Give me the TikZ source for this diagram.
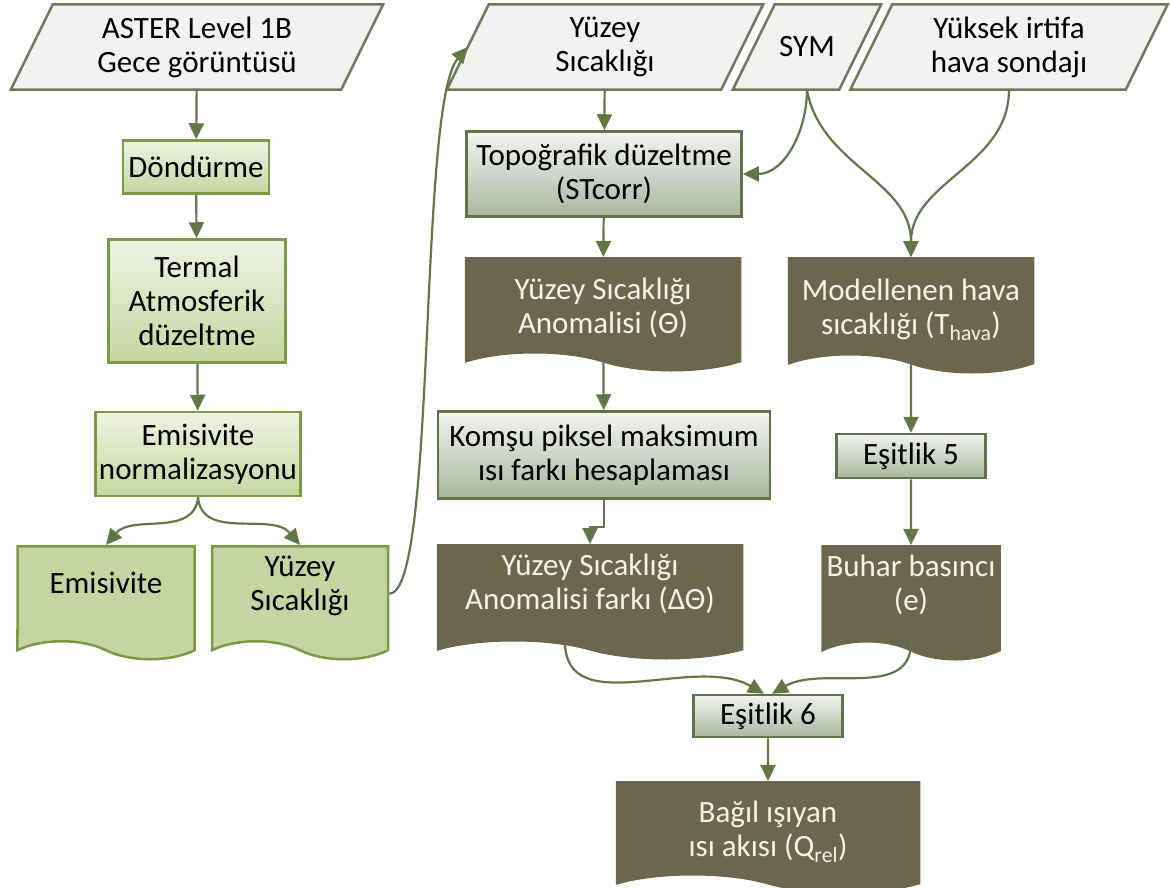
\documentclass[tikz,border=0pt]{standalone}
\usepackage{fontspec}
\setmainfont{Carlito}
\usetikzlibrary{shapes.symbols,arrows.meta,positioning,backgrounds}

\definecolor{okrenk}{HTML}{5F7846}
\definecolor{girdikenar}{HTML}{6F7A5A}
\definecolor{girdidolgu}{HTML}{F2F2F0}
\definecolor{yesilkenar}{HTML}{7A9A46}
\definecolor{yesilust}{HTML}{EEF3E3}
\definecolor{yesilalt}{HTML}{C5D6A0}
\definecolor{belgeyesil}{HTML}{C4D5A2}
\definecolor{grikenar}{HTML}{60744A}
\definecolor{griust}{HTML}{F2F4F0}
\definecolor{grialt}{HTML}{A8B79E}
\definecolor{koyudolgu}{HTML}{6D664E}
\definecolor{koyuyazi}{HTML}{F5F2E8}

\begin{document}
\begin{tikzpicture}[x=1pt,y=1pt,>={Triangle[length=16pt,width=15pt]},
	every node/.style={font=\fontsize{31}{34}\selectfont,align=center},
	ok/.style={->,draw=okrenk,line width=2.2pt},
	girdi/.style={rectangle,minimum height=85},
	paralel/.style={draw=girdikenar,fill=girdidolgu,line width=2.5pt,line join=miter},
	yesil/.style={rectangle,draw=yesilkenar,top color=yesilust,bottom color=yesilalt,line width=2.5pt},
	gri/.style={rectangle,draw=grikenar,top color=griust,bottom color=grialt,line width=2.5pt},
	belge/.style={tape,tape bend top=none,tape bend bottom=out and in,tape bend height=18pt,
		line width=2.5pt,anchor=north,text depth=22pt},
	acik/.style={belge,draw=yesilkenar,fill=belgeyesil},
	koyu/.style={belge,draw=koyudolgu,fill=koyudolgu,text=koyuyazi}]

	\useasboundingbox (0,0) rectangle (1170,-888);

	\node[girdi,minimum width=330] (aster) at (197,-47) {ASTER Level 1B\\Gece görüntüsü};
	\node[yesil,minimum width=146,minimum height=53] (dondurme) at (196,-167) {Döndürme};
	\node[yesil,minimum width=177,minimum height=123] (termal) at (197,-301) {Termal\\Atmosferik\\düzeltme};
	\node[yesil,minimum width=205,minimum height=84] (emnorm) at (198,-454) {Emisivite\\normalizasyonu};
	\node[acik,minimum width=177,minimum height=113] (emdoc) at (106,-545) {Emisivite};
	\node[acik,minimum width=176,minimum height=113] (yzdoc) at (300,-545) {Yüzey\\Sıcaklığı};

	\node[girdi,minimum width=274] (yuzey) at (605,-47) {Yüzey\\Sıcaklığı};
	\node[girdi,minimum width=106] (sym) at (807,-47) {SYM};
	\node[girdi,minimum width=275] (yuksek) at (1009,-47) {Yüksek irtifa\\hava sondajı};

	\node[gri,minimum width=275,minimum height=85] (topo) at (604,-174) {Topoğrafik düzeltme\\(STcorr)};
	\node[koyu,minimum width=274,minimum height=112,text depth=0pt] (anom) at (603,-257) {Yüzey Sıcaklığı\\Anomalisi (Θ)};
	\node[gri,minimum width=332,minimum height=87] (komsu) at (604,-455) {Komşu piksel maksimum\\ısı farkı hesaplaması};
	\node[koyu,minimum width=304,minimum height=113] (fark) at (590,-544) {Yüzey Sıcaklığı\\Anomalisi farkı (ΔΘ)};

	\node[koyu,minimum width=244,minimum height=114,text depth=0pt] (model) at (911,-257) {Modellenen hava\\sıcaklığı (T\textsubscript{hava})};
	\node[gri,minimum width=149,minimum height=44] (esit5) at (911,-456) {Eşitlik 5};
	\node[koyu,minimum width=177,minimum height=113] (buhar) at (911,-545) {Buhar basıncı\\(e)};

	\node[gri,minimum width=149,minimum height=42] (esit6) at (768,-716) {Eşitlik 6};
	\node[koyu,minimum width=302,minimum height=110,text depth=0pt] (bagil) at (768,-781) {Bağıl ışıyan\\ısı akısı (Q\textsubscript{rel})};

	\begin{scope}[on background layer]
		\foreach \n in {aster,yuzey,sym,yuksek}
			\draw[paralel] ([xshift=21]\n.north west) -- ([xshift=21]\n.north east)
				-- ([xshift=-21]\n.south east) -- ([xshift=-21]\n.south west) -- cycle;
	\end{scope}

	\foreach \a/\b in {aster/dondurme,dondurme/termal,termal/emnorm,yuzey/topo,
			topo/anom,anom/komsu,model/esit5,esit5/buhar,esit6/bagil}
		\draw[ok] (\a) -- (\b);

	\draw[ok] (emnorm.south) to[out=-95,in=50] (emdoc.north);
	\draw[ok] (emnorm.south) to[out=-85,in=130] (yzdoc.north);
	\draw[ok] (yzdoc.east) .. controls +(48,0) and +(-50,-58) .. (yuzey.west);
	\draw[ok] (sym.south) to[out=-90,in=0] (topo.east);
	\draw[ok] (sym.south) to[out=-80,in=90] (model.north);
	\draw[ok] (yuksek.south) to[out=-90,in=90] (model.north);
	\draw[ok] (komsu.south) -- ++(0,-27) -| (fark.north);
	\draw[ok] ([xshift=-25]fark.south) to[out=-90,in=150] ([xshift=-4]esit6.north);
	\draw[ok] (buhar.south) to[out=-90,in=30] ([xshift=4]esit6.north);
\end{tikzpicture}
\end{document}
